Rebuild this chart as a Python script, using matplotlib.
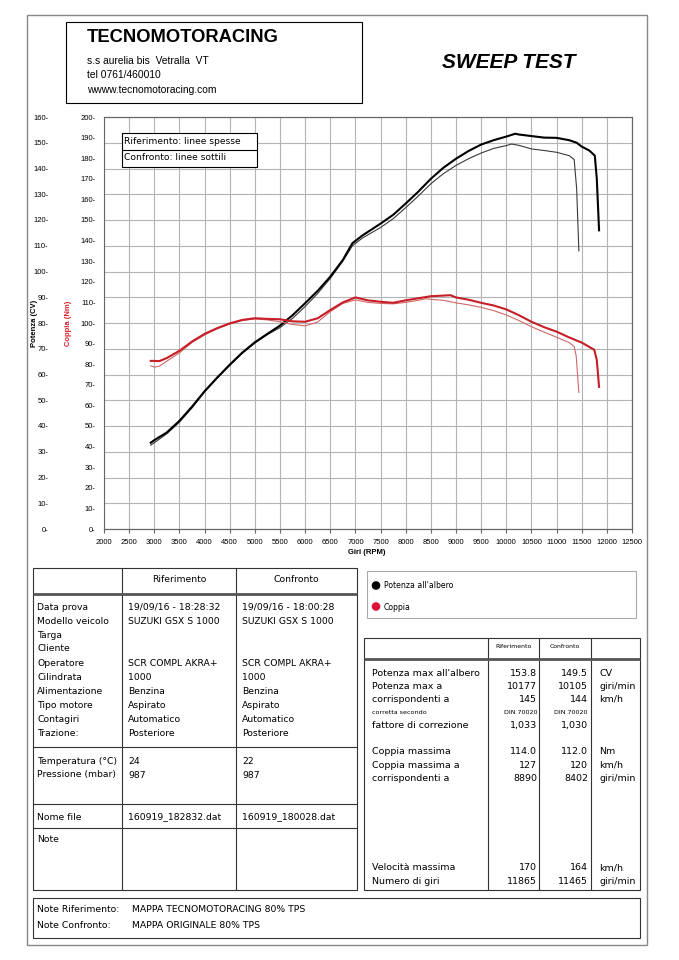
import matplotlib
matplotlib.use("Agg")
import matplotlib.pyplot as plt
from matplotlib.patches import Rectangle, Circle

# ---- curve data ----
rpm_pow_ref = [2930, 3000, 3250, 3500, 3750, 4000, 4250, 4500, 4750, 5000, 5250, 5500, 5750,
               6000, 6250, 6500, 6750, 6940, 7140, 7500, 7750, 8000, 8250, 8500, 8750, 9000,
               9250, 9500, 9750, 10000, 10177, 10250, 10500, 10750, 11000, 11250, 11400,
               11500, 11650, 11760, 11800, 11845]
pow_ref = [33.5, 34.5, 37.5, 42.0, 47.5, 53.5, 58.8, 63.8, 68.5, 72.5, 75.8, 79.0, 83.0,
           87.7, 92.5, 98.0, 104.5, 111.0, 114.0, 118.6, 122.0, 126.4, 131.0, 136.0, 140.3, 143.8,
           146.8, 149.3, 151.0, 152.4, 153.5, 153.2, 152.6, 152.0, 151.9, 151.0, 150.0,
           148.5, 147.0, 145.0, 136.0, 116.0]

rpm_pow_cmp = [2930, 3000, 3250, 3500, 3750, 4000, 4250, 4500, 4750, 5000, 5250, 5500, 5750,
               6000, 6250, 6500, 6750, 6940, 7140, 7500, 7750, 8000, 8250, 8500, 8750, 9000,
               9250, 9500, 9750, 10000, 10105, 10250, 10500, 10750, 11000, 11250, 11350,
               11400, 11443]
pow_cmp = [32.6, 33.5, 37.0, 41.5, 47.0, 53.2, 58.5, 63.5, 68.2, 72.2, 75.5, 78.2, 81.8,
           86.4, 91.5, 97.3, 104.0, 110.0, 113.0, 117.1, 120.5, 124.8, 129.3, 134.1, 138.0, 141.2,
           143.8, 146.0, 147.8, 148.9, 149.5, 149.0, 147.6, 147.0, 146.3, 145.0, 143.5,
           132.0, 108.0]

rpm_trq_ref = [2930, 3000, 3100, 3250, 3500, 3750, 4000, 4250, 4500, 4750, 5000, 5250, 5500,
               5750, 6000, 6250, 6500, 6750, 7000, 7250, 7500, 7750, 8000, 8250, 8500, 8750,
               8890, 9000, 9250, 9500, 9750, 10000, 10250, 10500, 10750, 11000, 11250, 11500,
               11750, 11800, 11845]
trq_ref = [81.6, 81.6, 81.5, 83.0, 86.5, 91.0, 94.7, 97.5, 99.8, 101.5, 102.3, 102.0, 101.8,
           100.8, 100.6, 102.3, 106.3, 110.0, 112.4, 111.0, 110.3, 109.8, 111.0, 112.0, 113.0, 113.3,
           113.5, 112.4, 111.3, 109.8, 108.5, 106.6, 103.8, 100.6, 98.0, 95.8, 93.0, 90.5,
           87.0, 82.0, 69.0]

rpm_trq_cmp = [2930, 3000, 3100, 3250, 3500, 3750, 4000, 4250, 4500, 4750, 5000, 5250, 5500,
               5750, 6000, 6250, 6500, 6750, 7000, 7250, 7500, 7750, 8000, 8250, 8402, 8500,
               8750, 9000, 9250, 9500, 9750, 10000, 10250, 10500, 10750, 11000, 11250, 11350,
               11390, 11443]
trq_cmp = [79.2, 78.6, 79.0, 81.5, 85.5, 90.5, 94.2, 97.2, 99.5, 101.2, 102.0, 101.5, 100.6,
           99.3, 98.6, 100.5, 105.5, 109.5, 111.2, 110.0, 109.5, 109.3, 110.0, 111.0, 111.8, 111.5,
           111.0, 109.8, 108.8, 107.6, 106.0, 103.9, 101.2, 98.2, 95.6, 93.1, 90.5, 88.6,
           84.0, 66.3]

rpm_ticks = list(range(2000, 12501, 500))
pow_ticks = list(range(0, 161, 10))
trq_ticks = list(range(0, 201, 10))

# ---- table text ----
info_labels = ["Data prova", "Modello veicolo", "Targa", "Cliente", "Operatore", "Cilindrata",
               "Alimentazione", "Tipo motore", "Contagiri", "Trazione:"]
info_ref = ["19/09/16 - 18:28:32", "SUZUKI GSX S 1000", "", "", "SCR COMPL AKRA+", "1000",
            "Benzina", "Aspirato", "Automatico", "Posteriore"]
info_cmp = ["19/09/16 - 18:00:28", "SUZUKI GSX S 1000", "", "", "SCR COMPL AKRA+", "1000",
            "Benzina", "Aspirato", "Automatico", "Posteriore"]
env_labels = ["Temperatura (°C)", "Pressione (mbar)"]
env_ref = ["24", "987"]
env_cmp = ["22", "987"]
file_ref = "160919_182832.dat"
file_cmp = "160919_180028.dat"

res_labels = ["Potenza max all'albero", "Potenza max a", "corrispondenti a", "corretta secondo",
              "fattore di correzione", "Coppia massima", "Coppia massima a", "corrispondenti a",
              "Velocità massima", "Numero di giri"]
res_ref = ["153.8", "10177", "145", "DIN 70020", "1,033", "114.0", "127", "8890", "170", "11865"]
res_cmp = ["149.5", "10105", "144", "DIN 70020", "1,030", "112.0", "120", "8402", "164", "11465"]
res_units = ["CV", "giri/min", "km/h", "", "", "Nm", "km/h", "giri/min", "km/h", "giri/min"]
res_y = [673, 686.5, 699.5, 712, 725.5, 752, 765.5, 778.5, 868, 881]

W, H = 679, 960
fig = plt.figure(figsize=(W / 100, H / 100), dpi=100)


def box(x0, y0, x1, y1):
    return [x0 / W, 1 - y1 / H, (x1 - x0) / W, (y1 - y0) / H]


# ---- chart ----
axp = fig.add_axes(box(104, 117, 632, 529))
axp.set_xlim(2000, 12500)
axp.set_ylim(0, 160)
axp.set_xticks(rpm_ticks)
axp.set_yticks(pow_ticks)
axp.grid(True, color="#b4b4b4", lw=0.8)
axp.set_axisbelow(True)
for s in axp.spines.values():
    s.set_color("#666666")
    s.set_linewidth(0.8)
axp.spines["left"].set_position(("outward", 36))
axp.spines["left"].set_visible(False)
axp.set_yticklabels([f"{v}-" for v in pow_ticks], fontsize=5.5, family="Liberation Sans")
axp.tick_params(axis="y", length=0, pad=4)
axp.set_xticklabels([str(v) for v in rpm_ticks], fontsize=5.5, family="Liberation Sans")
axp.tick_params(axis="x", length=3, pad=4, color="#666666")

axp.plot(rpm_pow_cmp, pow_cmp, color="#3a3a3a", lw=0.8)
axp.plot(rpm_pow_ref, pow_ref, color="#000000", lw=1.5)

axt = axp.twinx()
axt.set_ylim(0, 200)
axt.set_yticks(trq_ticks)
axt.yaxis.set_ticks_position("left")
axt.set_yticklabels([f"{v}-" for v in trq_ticks], fontsize=5.5, family="Liberation Sans")
axt.tick_params(axis="y", length=0, pad=6)
for s in axt.spines.values():
    s.set_color("#666666")
    s.set_linewidth(0.8)
axt.plot(rpm_trq_cmp, trq_cmp, color="#d06868", lw=0.8)
axt.plot(rpm_trq_ref, trq_ref, color="#c81e28", lw=1.5)

# ---- overlay for frames, tables and texts ----
ov = fig.add_axes([0, 0, 1, 1])
ov.set_zorder(10)
ov.set_xlim(0, W)
ov.set_ylim(H, 0)
ov.axis("off")


def rect(x0, y0, x1, y1, lw=0.8, ec="black"):
    ov.add_patch(Rectangle((x0, y0), x1 - x0, y1 - y0, fill=False, lw=lw, ec=ec))


def hline(y, x0, x1, lw=0.8, c="#333333"):
    ov.plot([x0, x1], [y, y], color=c, lw=lw, solid_capstyle="butt")


def vline(x, y0, y1, lw=0.8, c="#333333"):
    ov.plot([x, x], [y0, y1], color=c, lw=lw, solid_capstyle="butt")


def txt(x, y, s, size=6.7, ha="left", **kw):
    ov.text(x, y, s, fontsize=size, ha=ha, va="center", **kw)


rect(27, 15, 647, 945, lw=1.0, ec="#888888")

# header
rect(66, 22, 362, 103, lw=0.8)
txt(87, 37, "TECNOMOTORACING", size=13.2, family="Liberation Sans", weight="bold")
txt(87, 61, "s.s aurelia bis  Vetralla  VT", size=7.4, family="Liberation Sans")
txt(87, 75, "tel 0761/460010", size=7.4, family="Liberation Sans")
txt(87, 90, "wwww.tecnomotoracing.com", size=7.4, family="Liberation Sans")
txt(509, 62, "SWEEP TEST", size=15, ha="center", family="Liberation Sans",
    weight="bold", style="italic")

# axis titles
ov.text(35, 323, "Potenza (CV)", fontsize=5.5, rotation=90, ha="center", va="center",
        family="Liberation Sans", weight="bold")
ov.text(68, 323, "Coppia (Nm)", fontsize=5.5, rotation=90, ha="center", va="center",
        family="Liberation Sans", weight="bold", color="#d81e28")
txt(367, 552, "Giri (RPM)", size=5.5, ha="center", family="Liberation Sans", weight="bold")

# line legend inside chart
ov.add_patch(Rectangle((122, 133), 135, 34, fc="white", ec="black", lw=0.8))
hline(150, 122, 257, c="black")
txt(124, 142, "Riferimento: linee spesse", size=6.6)
txt(124, 158, "Confronto: linee sottili", size=6.6)

# left table
rect(33, 568, 357, 890, lw=0.8, ec="#333333")
vline(122, 568, 890)
vline(236, 568, 890)
hline(594, 33, 357, lw=2.0, c="#555555")
txt(179, 580, "Riferimento", ha="center")
txt(296, 580, "Confronto", ha="center")
info_y = [607.5, 621.5, 635.5, 648.5, 664, 677.5, 691, 705, 719.5, 733]
for y, a, b, c in zip(info_y, info_labels, info_ref, info_cmp):
    txt(37, y, a)
    txt(128, y, b)
    txt(242, y, c)
hline(747, 33, 357)
for y, a, b, c in zip([761.5, 775], env_labels, env_ref, env_cmp):
    txt(37, y, a)
    txt(128, y, b)
    txt(242, y, c)
hline(804, 33, 357)
txt(37, 817, "Nome file")
txt(128, 817, file_ref)
txt(242, 817, file_cmp)
hline(828, 33, 357)
txt(37, 840, "Note")

# colour legend
rect(367, 571, 636, 618, lw=0.8, ec="#aaaaaa")
ov.add_patch(Circle((376, 585.5), 3.6, color="black"))
ov.add_patch(Circle((376, 606.5), 3.6, color="#e0103a"))
txt(384, 586, "Potenza all'albero", size=5.6)
txt(384, 607, "Coppia", size=5.6)

# results table
rect(364, 638, 640, 890, lw=0.8, ec="#333333")
vline(488, 638, 890)
vline(539, 638, 890)
vline(591, 638, 890)
hline(659, 364, 640, lw=2.0, c="#555555")
txt(514, 646, "Riferimento", size=4.4, ha="center")
txt(565, 646, "Confronto", size=4.4, ha="center")
for y, a, b, c, u in zip(res_y, res_labels, res_ref, res_cmp, res_units):
    small = a == "corretta secondo"
    sz = 4.6 if small else 6.8
    txt(372, y, a, size=sz)
    txt(537, y, b, size=sz, ha="right")
    txt(588, y, c, size=sz, ha="right")
    if u:
        txt(599, y, u, size=sz)

# notes
rect(33, 898, 640, 938, lw=0.8, ec="#333333")
txt(37, 910, "Note Riferimento:")
txt(132, 910, "MAPPA TECNOMOTORACING 80% TPS")
txt(37, 926, "Note Confronto:")
txt(132, 926, "MAPPA ORIGINALE 80% TPS")

fig.savefig("out.png", dpi=100)
